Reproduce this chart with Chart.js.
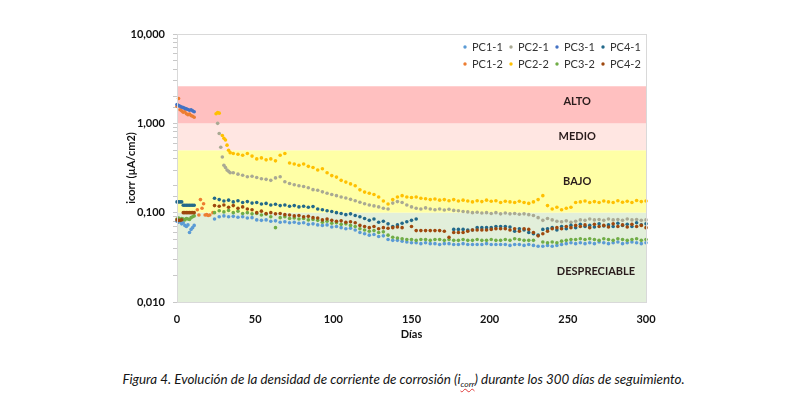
<!DOCTYPE html>
<html>
<head>
<meta charset="utf-8">
<script src="https://cdn.jsdelivr.net/npm/chart.js@4.4.1/dist/chart.umd.min.js"></script>
<style>
  body { margin: 0; background: #fff; }
  #wrap { position: relative; width: 807px; height: 412px; }
  #caption {
    position: absolute; left: 0; top: 371px; width: 807px;
    text-align: center; font: italic 13.4px Lato, sans-serif; color: #141414;
  }
  #caption .sub { font-size: 8.5px; vertical-align: -3px; text-decoration: underline wavy #e03a3a; }
</style>
</head>
<body>
<div id="wrap">
  <canvas id="icorrChart" width="807" height="360"></canvas>
  <div id="caption">Figura 4. Evolución de la densidad de corriente de corrosión (i<span class="sub">corr</span>) durante los 300 días de seguimiento.</div>
</div>
<script>
// days (x values)
const earlyDays = [0, 1, 2, 3, 4, 5, 6, 7, 8, 9, 10, 11];
const dropDays = [25, 26, 27, 28, 29, 30, 31, 32, 33, 34];
const pc12MidDays = [13, 14, 15, 16, 17, 18, 19, 20, 21, 23];
const mainDays = [
  24, 27, 30, 33, 36, 39, 42, 45, 48, 51,
  54, 57, 60, 63, 66, 69, 72, 75, 78, 81,
  84, 87, 90, 93, 96, 99, 102, 105, 108, 111,
  114, 117, 120, 123, 126, 129, 132, 135, 138, 141,
  144, 147, 150, 153, 156, 159, 162, 165, 168, 171,
  174, 177, 180, 183, 186, 189, 192, 195, 198, 201,
  204, 207, 210, 213, 216, 219, 222, 225, 228, 231,
  234, 237, 240, 243, 246, 249, 252, 255, 258, 261,
  264, 267, 270, 273, 276, 279, 282, 285, 288, 291,
  294, 297, 300
];

// icorr values (µA/cm2)
const pc11Early = [0.080, 0.078, 0.080, 0.075, 0.077, 0.072, 0.070, 0.073, 0.060, 0.065, 0.068, 0.072];
const pc31Early = [1.62, 1.58, 1.55, 1.52, 1.50, 1.47, 1.45, 1.43, 1.40, 1.42, 1.38, 1.35];
const pc12Early = [1.55, 1.90, 1.42, 1.38, 1.33, 1.35, 1.28, 1.25, 1.27, 1.22, 1.20, 1.17];
const pc32Early = [0.085, 0.087, 0.084, 0.086, 0.085, 0.083, 0.086, 0.085, 0.084, 0.088, 0.090, 0.092];
const pc41Early = [0.132, 0.132, 0.132, 0.132, 0.121, 0.121, 0.121, 0.121, 0.121, 0.121, 0.121, 0.121];
const pc42Early = [0.083, 0.082, 0.082, 0.083, 0.100, 0.100, 0.100, 0.100, 0.100, 0.100, 0.100, 0.100];

const pc12Mid = [0.108, 0.094, 0.140, 0.112, 0.126, 0.094, 0.095, 0.093, 0.094, 0.100];

const pc21Drop = [null, 1.00, 0.77, 0.54, 0.42, 0.34, 0.32, 0.30, 0.29, 0.28];
const pc22Drop = [1.28, 1.32, 1.30, null, 0.73, 0.68, 0.65, 0.57, 0.50, 0.47];

const pc11Main = [
  0.085, 0.090, 0.092, 0.090, 0.091, 0.089, 0.090, 0.087, 0.088, 0.083,
  0.082, 0.083, 0.080, 0.081, 0.078, 0.079, 0.077, 0.078, 0.076, 0.077,
  0.074, 0.075, 0.073, 0.072, 0.073, 0.069, 0.070, 0.068, 0.066, 0.067,
  0.064, 0.060, 0.058, 0.056, 0.057, 0.054, 0.055, 0.050, 0.049, 0.049,
  0.048, 0.047, 0.046, 0.046, 0.045, 0.046, 0.045, 0.045, 0.044, 0.045,
  0.045, 0.044, 0.044, 0.045, 0.044, 0.044, 0.044, 0.044, 0.045, 0.044,
  0.044, 0.044, 0.044, 0.043, 0.044, 0.044, 0.043, 0.044, 0.043, 0.042,
  0.042, 0.043, 0.042, 0.043, 0.044, 0.045, 0.046, 0.045, 0.046, 0.045,
  0.046, 0.045, 0.047, 0.046, 0.045, 0.046, 0.047, 0.045, 0.046, 0.047,
  0.046, 0.045, 0.046
];
const pc21Main = [
  null, null, null, null, 0.280, 0.270, 0.262, 0.252, 0.256, 0.248,
  0.240, 0.236, 0.230, 0.245, 0.252, 0.222, 0.212, 0.205, 0.200, 0.196,
  0.190, 0.181, 0.178, 0.171, 0.165, 0.160, 0.155, 0.150, 0.146, 0.141,
  0.136, 0.131, 0.126, 0.122, 0.119, 0.116, 0.112, 0.110, 0.128, 0.133,
  0.130, 0.122, 0.116, 0.112, 0.110, 0.113, 0.110, 0.108, 0.110, 0.107,
  0.109, 0.106, 0.105, 0.103, 0.102, 0.100, 0.101, 0.099, 0.100, 0.098,
  0.100, 0.097, 0.099, 0.097, 0.098, 0.096, 0.097, 0.095, 0.093, 0.088,
  0.082, 0.086, 0.083, 0.080, 0.079, 0.081, 0.078, 0.080, 0.083, 0.082,
  0.085, 0.083, 0.084, 0.082, 0.085, 0.083, 0.084, 0.082, 0.085, 0.083,
  0.084, 0.082, 0.083
];
const pc22Main = [
  null, null, null, null, 0.460, 0.450, 0.440, 0.460, 0.430, 0.400,
  0.410, 0.390, 0.400, 0.380, 0.440, 0.460, 0.360, 0.350, 0.340, 0.350,
  0.330, 0.320, 0.300, 0.310, 0.280, 0.260, 0.250, 0.230, 0.220, 0.210,
  0.200, 0.180, 0.170, 0.165, 0.160, 0.150, 0.135, 0.125, 0.140, 0.150,
  0.155, 0.150, 0.148, 0.150, 0.145, 0.143, 0.140, 0.142, 0.138, 0.140,
  0.136, 0.140, 0.135, 0.138, 0.135, 0.132, 0.136, 0.133, 0.138, 0.134,
  0.136, 0.130, 0.134, 0.132, 0.130, 0.134, 0.130, 0.127, 0.132, 0.140,
  0.155, 0.120, 0.110, 0.115, 0.108, 0.112, 0.115, 0.130, 0.132, 0.135,
  0.130, 0.133, 0.130, 0.135, 0.132, 0.130, 0.136, 0.131, 0.134, 0.130,
  0.137, 0.133, 0.135
];
const pc32Main = [
  0.100, 0.105, 0.102, 0.106, 0.100, 0.104, 0.098, 0.100, 0.097, 0.098,
  0.094, 0.096, 0.090, 0.068, 0.088, 0.090, 0.086, 0.087, 0.085, 0.086,
  0.083, 0.084, 0.082, 0.078, 0.080, 0.076, 0.077, 0.074, 0.075, 0.072,
  0.070, 0.066, 0.064, 0.062, 0.063, 0.060, 0.061, 0.056, 0.053, 0.052,
  0.051, 0.050, 0.050, 0.049, 0.050, 0.050, 0.049, 0.050, 0.050, 0.049,
  0.050, 0.049, 0.049, 0.050, 0.049, 0.049, 0.050, 0.049, 0.049, 0.050,
  0.049, 0.049, 0.050, 0.049, 0.051, 0.050, 0.049, 0.049, 0.049, null,
  0.047, 0.046, 0.047, 0.046, 0.048, 0.049, 0.050, 0.050, 0.051, 0.050,
  0.051, 0.050, 0.049, 0.051, 0.050, 0.049, 0.051, 0.050, 0.049, 0.050,
  0.051, 0.049, 0.050
];
const pc41Main = [
  0.145, 0.140, 0.135, 0.138, 0.132, 0.136, 0.130, 0.133, 0.128, 0.130,
  0.125, 0.127, 0.122, 0.124, 0.120, 0.122, 0.118, 0.120, 0.116, 0.118,
  0.115, 0.117, 0.110, 0.108, 0.105, 0.103, 0.100, 0.098, 0.095, 0.097,
  0.093, 0.090, 0.086, 0.082, 0.085, 0.078, 0.080, 0.075, 0.070, 0.073,
  0.076, 0.079, 0.082, 0.085, null, null, null, null, null, null,
  null, 0.065, 0.065, 0.065, 0.064, 0.064, 0.068, 0.068, 0.068, 0.068,
  0.070, 0.070, 0.070, 0.069, 0.062, 0.066, 0.064, 0.060, 0.058, 0.056,
  0.065, 0.066, 0.068, 0.064, 0.070, 0.066, 0.072, 0.068, 0.074, 0.070,
  0.072, 0.069, 0.075, 0.071, 0.073, 0.070, 0.076, 0.072, 0.074, 0.070,
  0.077, 0.073, 0.075
];
const pc42Main = [
  0.120, 0.118, 0.122, 0.115, 0.120, 0.112, 0.116, 0.110, 0.108, 0.100,
  0.104, 0.098, 0.100, 0.097, 0.098, 0.095, 0.094, 0.092, 0.093, 0.090,
  0.091, 0.088, 0.087, 0.083, 0.085, 0.082, 0.080, 0.081, 0.078, 0.079,
  0.077, 0.072, 0.070, 0.068, 0.070, 0.066, 0.068, 0.067, 0.068, 0.069,
  0.068, null, 0.070, 0.063, 0.063, 0.063, 0.063, 0.063, 0.063, 0.062,
  0.053, 0.060, 0.060, 0.060, 0.062, 0.064, 0.064, 0.064, 0.064, 0.065,
  0.066, 0.066, 0.066, 0.064, 0.066, 0.062, 0.066, 0.065, 0.060, 0.055,
  0.058, 0.062, 0.066, 0.068, 0.066, 0.070, 0.068, 0.072, 0.070, 0.073,
  0.068, 0.074, 0.070, 0.072, 0.069, 0.075, 0.070, 0.073, 0.069, 0.074,
  0.070, 0.072, 0.068
];

// corrosion level bands (lower limits .. upper limit)
const bandLimits = [0.01, 0.1, 0.5, 1, 2.6];
const bandNames = ['DESPRECIABLE', 'BAJO', 'MEDIO', 'ALTO'];

function pts(days, vals) {
  return days.map((d, i) => ({ x: d, y: vals[i] })).filter(p => p.y !== null);
}

const datasets = [
  { label: 'PC1-1', order: 8, backgroundColor: '#5b9bd5', data: pts(earlyDays, pc11Early).concat(pts(mainDays, pc11Main)) },
  { label: 'PC2-1', order: 6, backgroundColor: '#a9a993', data: pts(dropDays, pc21Drop).concat(pts(mainDays, pc21Main)) },
  { label: 'PC3-1', order: 4, backgroundColor: '#4472c4', data: pts(earlyDays, pc31Early) },
  { label: 'PC4-1', order: 2, backgroundColor: '#22698a', data: pts(earlyDays, pc41Early).concat(pts(mainDays, pc41Main)) },
  { label: 'PC1-2', order: 7, backgroundColor: '#ed7d31', data: pts(earlyDays, pc12Early).concat(pts(pc12MidDays, pc12Mid)) },
  { label: 'PC2-2', order: 5, backgroundColor: '#ffc000', data: pts(dropDays, pc22Drop).concat(pts(mainDays, pc22Main)) },
  { label: 'PC3-2', order: 3, backgroundColor: '#70ad47', data: pts(earlyDays, pc32Early).concat(pts(mainDays, pc32Main)) },
  { label: 'PC4-2', order: 1, backgroundColor: '#9e480e', data: pts(earlyDays, pc42Early).concat(pts(mainDays, pc42Main)) }
];

const bandColors = ['#e2efda', '#ffffa6', '#ffe6e2', '#ffc0c0'];
const bandLabelAt = [[268, 0.022], [256, 0.225], [256, 0.715], [256, 1.76]];

const bandPlugin = {
  id: 'bands',
  beforeDatasetsDraw(chart) {
    const { ctx, chartArea: a, scales: { x, y } } = chart;
    ctx.save();
    for (let i = 0; i < bandNames.length; i++) {
      const top = y.getPixelForValue(bandLimits[i + 1]);
      const bottom = y.getPixelForValue(bandLimits[i]);
      ctx.fillStyle = bandColors[i];
      ctx.fillRect(a.left + 1, top, a.right - a.left - 1, bottom - top);
    }
    ctx.font = 'bold 11px Lato';
    ctx.textAlign = 'center';
    ctx.textBaseline = 'middle';
    ctx.fillStyle = '#2a1c1c';
    bandNames.forEach((name, i) => {
      ctx.fillText(name, x.getPixelForValue(bandLabelAt[i][0]), y.getPixelForValue(bandLabelAt[i][1]));
    });
    ctx.restore();
  }
};

const cornerLegend = {
  id: 'cornerLegend',
  afterDraw(chart) {
    const { ctx, chartArea: a } = chart;
    ctx.save();
    ctx.strokeStyle = '#d9d9d9';
    ctx.lineWidth = 1;
    ctx.strokeRect(a.left + 0.5, a.top + 0.5, a.right - a.left, a.bottom - a.top);
    ctx.font = '11px Lato';
    ctx.textBaseline = 'middle';
    chart.data.datasets.forEach((ds, i) => {
      const mx = a.right - 181 + (i % 4) * 46;
      const my = a.top + 13 + Math.floor(i / 4) * 17;
      ctx.fillStyle = ds.backgroundColor;
      ctx.beginPath();
      ctx.arc(mx, my, 1.7, 0, Math.PI * 2);
      ctx.fill();
      ctx.fillStyle = '#333333';
      ctx.fillText(ds.label, mx + 7, my);
    });
    ctx.restore();
  }
};

const axisFont = { family: 'Lato', size: 11, weight: 'bold' };

new Chart(document.getElementById('icorrChart'), {
  type: 'scatter',
  data: { datasets: datasets },
  options: {
    responsive: false,
    animation: false,
    layout: { padding: { left: 100, right: 161, top: 34, bottom: 18 } },
    elements: { point: { radius: 1.8, hoverRadius: 1.8, borderWidth: 0 } },
    datasets: { scatter: { clip: 3 } },
    plugins: { legend: { display: false }, tooltip: { enabled: false } },
    scales: {
      x: {
        type: 'linear', min: 0, max: 300,
        afterFit(s) { s.height = 40; },
        grid: { display: false },
        border: { display: false },
        ticks: { stepSize: 50, padding: 3, color: '#111111', font: axisFont },
        title: { display: true, text: 'Días', color: '#111111', font: axisFont, padding: { top: 0, bottom: 1 } }
      },
      y: {
        type: 'logarithmic', min: 0.01, max: 10,
        afterFit(s) { s.width = 77; },
        grid: { drawOnChartArea: false, drawTicks: true, tickLength: 4, color: '#c8c8c8' },
        border: { display: true, color: '#bfbfbf' },
        ticks: {
          autoSkip: false, padding: 8, color: '#111111', font: axisFont,
          callback(v) {
            const l = Math.log10(v);
            return Math.abs(l - Math.round(l)) < 1e-6 ? v.toFixed(3).replace('.', ',') : '';
          }
        },
        title: { display: true, text: 'icorr (µA/cm2)', color: '#111111', font: axisFont, padding: { top: 25, bottom: 0 } }
      }
    }
  },
  plugins: [bandPlugin, cornerLegend]
});
</script>
</body>
</html>
